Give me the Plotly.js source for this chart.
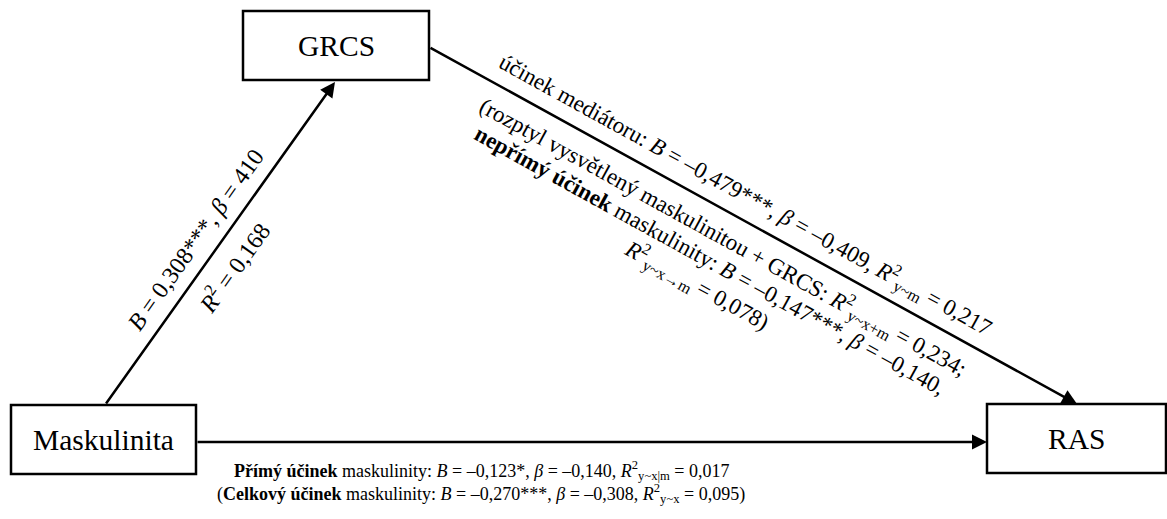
<!DOCTYPE html>
<html>
<head>
<meta charset="utf-8">
<script src="https://cdn.plot.ly/plotly-3.0.1.min.js"></script>
<style>html,body{margin:0;padding:0;background:#fff;}#chart{width:1167px;height:519px;}</style>
</head>
<body>
<div id="chart"></div>
<script>
// ---- content (text of the diagram) ----
const nodeLabels = ['Maskulinita', 'GRCS', 'RAS'];
const pathALabels = [
  '<i>B</i> = 0,308***, <i>β</i> = 410',
  '<i>R</i><sup>2</sup> = 0,168'
];
const pathBLabels = [
  'účinek mediátoru: <i>B</i> = –0,479***, <i>β</i> = –0,409, <i>R</i><sup>2</sup><sub>y~m</sub> = 0,217',
  '(rozptyl vysvětlený maskulinitou + GRCS: <i>R</i><sup>2</sup><sub>y~x+m</sub> = 0,234;',
  '<b>nepřímý účinek</b> maskulinity: <i>B</i> = –0,147***, <i>β</i> = –0,140,',
  '<i>R</i><sup>2</sup><sub>y~x→m</sub> = 0,078)'
];
const pathCLabels = [
  '<b>Přímý účinek</b> maskulinity: <i>B</i> = –0,123*, <i>β</i> = –0,140, <i>R</i><sup>2</sup><sub>y~x|m</sub> = 0,017',
  '(<b>Celkový účinek</b> maskulinity: <i>B</i> = –0,270***, <i>β</i> = –0,308, <i>R</i><sup>2</sup><sub>y~x</sub> = 0,095)'
];

// ---- layout geometry (pixel-like coordinates on a 1167 x 519 canvas) ----
const boxes = [
  {x0: 11, y0: 405, x1: 196, y1: 474},
  {x0: 243, y0: 11, x1: 429, y1: 80},
  {x0: 987, y0: 404, x1: 1166, y1: 473}
];
const arrows = [
  {from: [105, 405], to: [335, 82]},
  {from: [429, 47], to: [1077, 404]},
  {from: [196, 442], to: [987, 442]}
];
const pathALayout = {along: 187, perp: [22, -24], size: 24};
const pathBLayout = {along: 349, perp: [23, -25, -52, -79], size: 23};
const pathCLayout = {x: 481, y: [470, 493], size: 18};
const nodeSize = 29.5;

const FONT = 'Liberation Serif';

function geom(a) {
  const dx = a.to[0] - a.from[0], dy = a.to[1] - a.from[1];
  const L = Math.hypot(dx, dy);
  const d = [dx / L, dy / L];
  const n = [d[1], -d[0]];
  const ang = Math.atan2(dy, dx) * 180 / Math.PI;
  return {d, n, ang};
}
function place(a, along, perp) {
  const g = geom(a);
  return [a.from[0] + along * g.d[0] + perp * g.n[0], a.from[1] + along * g.d[1] + perp * g.n[1]];
}

const shapes = boxes.map(b => ({
  type: 'rect', xref: 'x', yref: 'y', x0: b.x0, y0: b.y0, x1: b.x1, y1: b.y1,
  line: {color: '#000', width: 2.5}, fillcolor: 'rgba(0,0,0,0)'
}));

const annotations = [];
boxes.forEach((b, i) => {
  annotations.push({
    x: (b.x0 + b.x1) / 2, y: (b.y0 + b.y1) / 2, xref: 'x', yref: 'y',
    text: nodeLabels[i], showarrow: false, xanchor: 'center', yanchor: 'middle',
    font: {family: FONT, size: nodeSize, color: '#000'}
  });
});
arrows.forEach(a => {
  annotations.push({
    x: a.to[0], y: a.to[1], ax: a.from[0], ay: a.from[1],
    xref: 'x', yref: 'y', axref: 'x', ayref: 'y',
    text: '', showarrow: true, arrowhead: 2, arrowsize: 1.2, arrowwidth: 2.5,
    arrowcolor: '#000', standoff: 0, startstandoff: 0
  });
});
pathALabels.forEach((t, i) => {
  const p = place(arrows[0], pathALayout.along, pathALayout.perp[i]);
  annotations.push({
    x: p[0], y: p[1], xref: 'x', yref: 'y', text: t, showarrow: false,
    textangle: geom(arrows[0]).ang, xanchor: 'center', yanchor: 'middle',
    font: {family: FONT, size: pathALayout.size, color: '#000'}
  });
});
pathBLabels.forEach((t, i) => {
  const p = place(arrows[1], pathBLayout.along, pathBLayout.perp[i]);
  annotations.push({
    x: p[0], y: p[1], xref: 'x', yref: 'y', text: t, showarrow: false,
    textangle: geom(arrows[1]).ang, xanchor: 'center', yanchor: 'middle',
    font: {family: FONT, size: pathBLayout.size, color: '#000'}
  });
});
pathCLabels.forEach((t, i) => {
  annotations.push({
    x: pathCLayout.x, y: pathCLayout.y[i], xref: 'x', yref: 'y', text: t, showarrow: false,
    xanchor: 'center', yanchor: 'middle',
    font: {family: FONT, size: pathCLayout.size, color: '#000'}
  });
});

const layout = {
  width: 1167, height: 519,
  margin: {l: 0, r: 0, t: 0, b: 0},
  paper_bgcolor: '#fff', plot_bgcolor: '#fff',
  xaxis: {range: [0, 1167], visible: false, fixedrange: true},
  yaxis: {range: [519, 0], visible: false, fixedrange: true},
  showlegend: false,
  shapes, annotations
};
Plotly.newPlot('chart', [], layout, {staticPlot: true, displayModeBar: false});
</script>
</body>
</html>
